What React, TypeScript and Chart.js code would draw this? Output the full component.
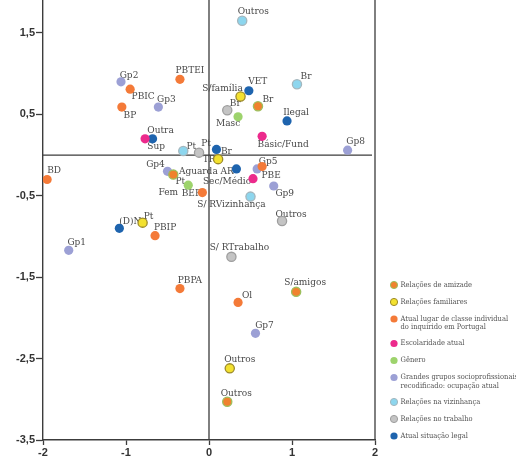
import { useEffect, useRef } from 'react';
import { Chart, registerables } from 'chart.js';

Chart.register(...registerables);

// Axis ticks
const xTickValues = [-2, -1, 0, 1, 2];
const yTickValues = [-3.5, -2.5, -1.5, -0.5, 0.5, 1.5];

// Series names (legend), line breaks mark legend wrapping
const seriesNames = [
  'Relações de amizade',
  'Relações familiares',
  'Atual lugar de classe individual\ndo inquirido em Portugal',
  'Escolaridade atual',
  'Gênero',
  'Grandes grupos socioprofissionais\nrecodificado: ocupação atual',
  'Relações na vizinhança',
  'Relações no trabalho',
  'Atual situação legal',
];

// Relações de amizade
const amizadeLabels = ['Br', 'Pt', 'S/amigos', 'Outros'];
const amizadeX = [0.59, -0.43, 1.05, 0.22];
const amizadeY = [0.6, -0.24, -1.68, -3.03];

// Relações familiares
const familiaresLabels = ['S/família', 'TR', 'Pt', 'Outros'];
const familiaresX = [0.38, 0.11, -0.8, 0.25];
const familiaresY = [0.72, -0.05, -0.83, -2.62];

// Atual lugar de classe individual
const classeLabels = ['PBTEI', 'PBIC', 'BP', 'BD', 'BEP', 'PBE', 'PBIP', 'PBPA', 'Ol'];
const classeX = [-0.35, -0.95, -1.05, -1.95, -0.08, 0.64, -0.65, -0.35, 0.35];
const classeY = [0.93, 0.81, 0.59, -0.3, -0.46, -0.14, -0.99, -1.64, -1.81];

// Escolaridade atual
const escolaridadeLabels = ['Sup', 'Básic/Fund', 'Sec/Médio'];
const escolaridadeX = [-0.77, 0.64, 0.53];
const escolaridadeY = [0.2, 0.23, -0.29];

// Gênero
const generoLabels = ['Masc', 'Fem'];
const generoX = [0.35, -0.25];
const generoY = [0.47, -0.37];

// Grandes grupos socioprofissionais
const gruposLabels = ['Gp1', 'Gp2', 'Gp3', 'Gp4', 'Gp5', 'Gp7', 'Gp8', 'Gp9'];
const gruposX = [-1.69, -1.06, -0.61, -0.5, 0.58, 0.56, 1.67, 0.78];
const gruposY = [-1.17, 0.9, 0.59, -0.2, -0.17, -2.19, 0.06, -0.38];

// Relações na vizinhança
const vizinhancaLabels = ['Outros', 'Br', 'Pt', 'S/ RVizinhança'];
const vizinhancaX = [0.4, 1.06, -0.31, 0.5];
const vizinhancaY = [1.65, 0.87, 0.05, -0.51];

// Relações no trabalho
const trabalhoLabels = ['Br', 'Pt', 'Outros', 'S/ RTrabalho'];
const trabalhoX = [0.22, -0.12, 0.88, 0.27];
const trabalhoY = [0.55, 0.03, -0.81, -1.25];

// Atual situação legal
const legalLabels = ['VET', 'Ilegal', 'Outra', 'Br', 'Aguarda AR', '(D)N'];
const legalX = [0.48, 0.94, -0.68, 0.09, 0.33, -1.08];
const legalY = [0.79, 0.42, 0.2, 0.07, -0.17, -0.9];

// Label placement (text centre relative to the marker, px)
const amizadeOffsets = [[10, -7], [7, 7], [9, -9], [9, -8]];
const familiaresOffsets = [[-18, -8], [-9, 0], [6, -6], [10, -9]];
const classeOffsets = [[10, -9], [13, 7], [8, 8], [7, -9], [-11, 1], [9, 9], [10, -8], [10, -8], [9, -7]];
const escolaridadeOffsets = [[11, 8], [21, 8], [-26, 3]];
const generoOffsets = [[-10, 7], [-20, 7]];
const gruposOffsets = [[8, -8], [8, -6], [8, -8], [-12, -7], [11, -8], [9, -8], [8, -9], [11, 7]];
const vizinhancaOffsets = [[11, -9], [9, -8], [8, -5], [-19, 8]];
const trabalhoOffsets = [[8, -7], [7, -9], [9, -7], [8, -9]];
const legalOffsets = [[9, -9], [9, -8], [8, -8], [10, 2], [-30, 2], [11, -7]];

// Marker styles
const seriesFill = ['#f0822e', '#f3e12f', '#f47a38', '#ec2a8c', '#9dd36c', '#9ca0d5', '#8dd6ee', '#c4c4c4', '#1e64ae'];
const seriesBorder = ['#9dbf5c', '#9c8a2a', '#f47a38', '#ec2a8c', '#9dd36c', '#9ca0d5', '#a4b6bd', '#9e9e9e', '#1e64ae'];
const seriesBorderWidth = [1.3, 1.3, 0, 0, 0, 0, 1.3, 1.3, 0];

const seriesLabels = [amizadeLabels, familiaresLabels, classeLabels, escolaridadeLabels, generoLabels, gruposLabels, vizinhancaLabels, trabalhoLabels, legalLabels];
const seriesX = [amizadeX, familiaresX, classeX, escolaridadeX, generoX, gruposX, vizinhancaX, trabalhoX, legalX];
const seriesY = [amizadeY, familiaresY, classeY, escolaridadeY, generoY, gruposY, vizinhancaY, trabalhoY, legalY];
const seriesOffsets = [amizadeOffsets, familiaresOffsets, classeOffsets, escolaridadeOffsets, generoOffsets, gruposOffsets, vizinhancaOffsets, trabalhoOffsets, legalOffsets];

const LABEL_FONT = "10px 'DejaVu Serif Condensed', 'DejaVu Serif', serif";
const LEGEND_FONT = "7.5px 'DejaVu Serif Condensed', 'DejaVu Serif', serif";
const AXIS_COLOR = '#3c3c3c';

const fmt = (v: number) => String(v).replace('.', ',');

// Zero lines and the right-hand frame line
const framePlugin = {
  id: 'frameLines',
  beforeDatasetsDraw(chart: any) {
    const { ctx, chartArea: a, scales } = chart;
    const x0 = scales.x.getPixelForValue(0);
    const y0 = scales.y.getPixelForValue(0);
    ctx.save();
    ctx.strokeStyle = AXIS_COLOR;
    ctx.lineWidth = 1.3;
    ctx.beginPath();
    ctx.moveTo(x0, a.top);
    ctx.lineTo(x0, a.bottom);
    ctx.moveTo(a.left, y0);
    ctx.lineTo(a.right - 3, y0);
    ctx.moveTo(a.right, a.top);
    ctx.lineTo(a.right, a.bottom);
    ctx.stroke();
    ctx.restore();
  },
};

// Category names next to each marker (drawn beneath the markers)
const pointLabelPlugin = {
  id: 'pointLabels',
  beforeDatasetsDraw(chart: any) {
    const { ctx } = chart;
    ctx.save();
    ctx.font = LABEL_FONT;
    ctx.fillStyle = '#484848';
    ctx.textAlign = 'center';
    ctx.textBaseline = 'middle';
    chart.data.datasets.forEach((_ds: any, di: number) => {
      const meta = chart.getDatasetMeta(di);
      meta.data.forEach((el: any, i: number) => {
        const [dx, dy] = seriesOffsets[di][i];
        ctx.fillText(seriesLabels[di][i], el.x + dx, el.y + dy);
      });
    });
    ctx.restore();
  },
};

// Legend on the lower right
const legendPlugin = {
  id: 'sideLegend',
  afterDraw(chart: any) {
    const { ctx } = chart;
    ctx.save();
    ctx.font = LEGEND_FONT;
    ctx.textAlign = 'left';
    ctx.textBaseline = 'middle';
    let y = 285;
    seriesNames.forEach((name, i) => {
      ctx.beginPath();
      ctx.arc(394, y, 3.6, 0, Math.PI * 2);
      ctx.fillStyle = seriesFill[i];
      ctx.fill();
      if (seriesBorderWidth[i] > 0) {
        ctx.lineWidth = 1;
        ctx.strokeStyle = seriesBorder[i];
        ctx.stroke();
      }
      ctx.fillStyle = '#555555';
      const lines = name.split('\n');
      lines.forEach((line, li) => {
        ctx.fillText(line, 400.5, y + li * 8.5);
      });
      y += 17 + 7.5 * (lines.length - 1);
    });
    ctx.restore();
  },
};

export default function App() {
  const canvasRef = useRef<HTMLCanvasElement | null>(null);

  useEffect(() => {
    const canvas = canvasRef.current;
    if (!canvas) return;

    const datasets = seriesNames.map((name, si) => ({
      label: name.replace('\n', ' '),
      data: seriesX[si].map((xv, i) => ({ x: xv, y: seriesY[si][i] })),
      backgroundColor: seriesFill[si],
      borderColor: seriesBorder[si],
      borderWidth: seriesBorderWidth[si],
      pointRadius: 4.6,
      pointHoverRadius: 4.6,
    }));

    const chart = new Chart(canvas, {
      type: 'scatter',
      data: { datasets },
      options: {
        animation: false,
        responsive: false,
        devicePixelRatio: 1,
        layout: { autoPadding: false, padding: { top: 0, left: 0, right: 141, bottom: 0 } },
        plugins: {
          legend: { display: false },
          tooltip: { enabled: false },
        },
        scales: {
          x: {
            type: 'linear',
            min: -2,
            max: 2,
            afterBuildTicks: (scale: any) => {
              scale.ticks = xTickValues.map((v) => ({ value: v }));
            },
            afterFit: (scale: any) => {
              scale.height = 30;
              scale.paddingLeft = 0;
              scale.paddingRight = 0;
            },
            grid: {
              drawOnChartArea: false,
              drawTicks: true,
              tickLength: 5,
              tickColor: AXIS_COLOR,
              tickWidth: 1.3,
            },
            border: { display: true, color: AXIS_COLOR, width: 1.4 },
            ticks: {
              padding: 1,
              color: '#333333',
              font: { family: "'Liberation Sans', Arial, sans-serif", size: 11, weight: 'bold' },
              callback: (v: any) => fmt(Number(v)),
            },
          },
          y: {
            type: 'linear',
            min: -3.5,
            max: 1.905,
            afterBuildTicks: (scale: any) => {
              scale.ticks = yTickValues.map((v) => ({ value: v }));
            },
            afterFit: (scale: any) => {
              scale.width = 43;
              scale.paddingTop = 0;
              scale.paddingBottom = 0;
            },
            grid: {
              drawOnChartArea: false,
              drawTicks: true,
              tickLength: 7,
              tickColor: AXIS_COLOR,
              tickWidth: 1.3,
            },
            border: { display: true, color: AXIS_COLOR, width: 1.4 },
            ticks: {
              padding: 1,
              color: '#333333',
              font: { family: "'Liberation Sans', Arial, sans-serif", size: 11, weight: 'bold' },
              callback: (v: any) => fmt(Number(v)),
            },
          },
        },
      },
      plugins: [framePlugin, pointLabelPlugin, legendPlugin],
    } as any);

    return () => chart.destroy();
  }, []);

  return (
    <div style={{ position: 'absolute', left: 0, top: 0, width: 516, height: 470, background: '#ffffff' }}>
      <canvas ref={canvasRef} width={516} height={470} style={{ display: 'block', width: 516, height: 470 }} />
    </div>
  );
}
